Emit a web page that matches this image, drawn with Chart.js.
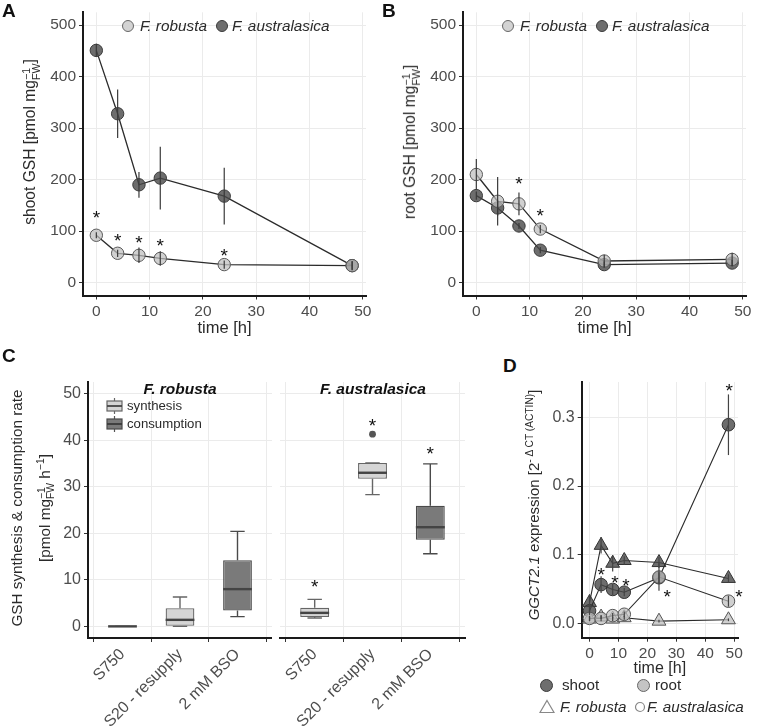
<!DOCTYPE html>
<html>
<head>
<meta charset="utf-8">
<title>GSH dynamics</title>
<script src="https://cdn.jsdelivr.net/npm/chart.js@4.4.1/dist/chart.umd.min.js"></script>
<style>
  body { margin: 0; background: #fff; }
  #fig { position: relative; width: 758px; height: 728px; overflow: hidden;
         font-family: "Liberation Sans", Arial, sans-serif; color: #2a2a2a; }
  #fig canvas { position: absolute; }
  .lbl { position: absolute; font-weight: bold; font-size: 19px; line-height: 1; color: #111; }
  .ytitle { position: absolute; white-space: nowrap; line-height: 1;
            transform: translate(-50%, -50%) rotate(-90deg); }
  .st { display: inline-block; font-size: 0.68em; line-height: 0.95; vertical-align: -0.45em; }
  .st span { display: block; }
  .sup { font-size: 0.68em; vertical-align: 0.55em; }
  .leg { position: absolute; white-space: nowrap; line-height: 1; }
  .dot { position: absolute; border-radius: 50%; box-sizing: border-box; }
  .facet { position: absolute; white-space: nowrap; transform: translate(-50%, -50%);
           font-weight: bold; font-style: italic; font-size: 15.5px; line-height: 1; color: #111; }
</style>
</head>
<body>
<div id="fig">
  <canvas id="chartA" width="380" height="340" style="left:0;top:0"></canvas>
  <canvas id="chartB" width="378" height="340" style="left:380px;top:0"></canvas>
  <canvas id="chartC1" width="272" height="388" style="left:0;top:340px"></canvas>
  <canvas id="chartC2" width="200" height="388" style="left:272px;top:340px"></canvas>
  <canvas id="chartD" width="238" height="388" style="left:520px;top:340px"></canvas>

  <!-- panel letters -->
  <div class="lbl" style="left:2px;top:1px">A</div>
  <div class="lbl" style="left:382px;top:1px">B</div>
  <div class="lbl" style="left:2px;top:346px">C</div>
  <div class="lbl" style="left:503px;top:356px">D</div>

  <!-- y axis titles -->
  <div class="ytitle" style="left:31px;top:142px;font-size:15.6px">shoot GSH [pmol mg<span class="st"><span>−1</span><span>FW</span></span>]</div>
  <div class="ytitle" style="left:411px;top:142px;font-size:15.6px">root GSH [pmol mg<span class="st"><span>−1</span><span>FW</span></span>]</div>
  <div class="ytitle" style="left:17px;top:508px;font-size:15.3px">GSH synthesis &amp; consumption rate</div>
  <div class="ytitle" style="left:46px;top:508px;font-size:15.3px">[pmol mg<span class="st"><span>−1</span><span>FW</span></span> h<span class="sup">−1</span>]</div>
  <div class="ytitle" style="left:533px;top:505px;font-size:15px"><i>GGCT2.1</i> expression [2<span class="sup">- Δ CT (ACTIN)</span>]</div>

  <!-- legends A / B -->
  <div class="dot" style="left:122px;top:20px;width:12px;height:12px;background:#d3d3d3;border:1px solid #666"></div>
  <div class="leg" style="left:140px;top:18px;font-size:15.3px;font-style:italic">F. robusta</div>
  <div class="dot" style="left:216px;top:20px;width:12px;height:12px;background:#6e6e6e;border:1px solid #3a3a3a"></div>
  <div class="leg" style="left:232px;top:18px;font-size:15.3px;font-style:italic">F. australasica</div>
  <div class="dot" style="left:502px;top:20px;width:12px;height:12px;background:#d3d3d3;border:1px solid #666"></div>
  <div class="leg" style="left:520px;top:18px;font-size:15.3px;font-style:italic">F. robusta</div>
  <div class="dot" style="left:596px;top:20px;width:12px;height:12px;background:#6e6e6e;border:1px solid #3a3a3a"></div>
  <div class="leg" style="left:612px;top:18px;font-size:15.3px;font-style:italic">F. australasica</div>

  <!-- facet titles C -->
  <div class="facet" style="left:180px;top:389px">F. robusta</div>
  <div class="facet" style="left:373px;top:389px">F. australasica</div>

  <!-- legend C -->
  <svg style="position:absolute;left:106px;top:398px" width="17" height="16">
    <line x1="8.5" y1="0" x2="8.5" y2="16" stroke="#666" stroke-width="1.2"/>
    <rect x="1" y="3" width="15" height="10" fill="#d5d5d5" stroke="#666" stroke-width="1.2"/>
    <line x1="1" y1="8" x2="16" y2="8" stroke="#444" stroke-width="1.8"/>
  </svg>
  <div class="leg" style="left:127px;top:399px;font-size:13.2px">synthesis</div>
  <svg style="position:absolute;left:106px;top:416px" width="17" height="16">
    <line x1="8.5" y1="0" x2="8.5" y2="16" stroke="#555" stroke-width="1.2"/>
    <rect x="1" y="3" width="15" height="10" fill="#7a7a7a" stroke="#4a4a4a" stroke-width="1.2"/>
    <line x1="1" y1="8" x2="16" y2="8" stroke="#3a3a3a" stroke-width="1.8"/>
  </svg>
  <div class="leg" style="left:127px;top:417px;font-size:13.2px">consumption</div>

  <!-- legend D -->
  <div class="dot" style="left:540px;top:679px;width:13px;height:13px;background:#6e6e6e;border:1px solid #3a3a3a"></div>
  <div class="leg" style="left:562px;top:677px;font-size:15.2px">shoot</div>
  <div class="dot" style="left:637px;top:679px;width:13px;height:13px;background:#c4c4c4;border:1px solid #666"></div>
  <div class="leg" style="left:655px;top:677px;font-size:15.2px">root</div>
  <svg style="position:absolute;left:539px;top:699px" width="16" height="15">
    <polygon points="8,1.5 15,13.5 1,13.5" fill="none" stroke="#888" stroke-width="1.2"/>
  </svg>
  <div class="leg" style="left:560px;top:699px;font-size:15.2px;font-style:italic">F. robusta</div>
  <svg style="position:absolute;left:634px;top:701px" width="12" height="12">
    <circle cx="6" cy="6" r="4.5" fill="none" stroke="#888" stroke-width="1.2"/>
  </svg>
  <div class="leg" style="left:647px;top:699px;font-size:15.2px;font-style:italic">F. australasica</div>
</div>

<script>
// ---- data ----
const timeHours = [0, 4, 8, 12, 24, 48];
const timeTicks = [0, 10, 20, 30, 40, 50];
const gshTicks = [0, 100, 200, 300, 400, 500];

// A: shoot GSH [pmol/mg FW]
const shootRobusta = [92, 57, 53, 47, 35, 33];
const shootRobustaSd = [6, 7, 15, 14, 8, 8];
const shootAustralasica = [451, 328, 190, 203, 168, 33];
const shootAustralasicaSd = [13, 47, 25, 61, 55, 9];
const shootStars = [[0, 135], [4, 90], [8, 86], [12, 80], [24, 61]];

// B: root GSH [pmol/mg FW]
const rootRobusta = [210, 158, 153, 104, 42, 45];
const rootRobustaSd = [30, 47, 22, 8, 12, 13];
const rootAustralasica = [169, 145, 110, 63, 35, 38];
const rootAustralasicaSd = [8, 15, 6, 6, 6, 6];
const rootStars = [[8, 200], [12, 138]];

// C: synthesis / consumption rate, [min, q1, median, q3, max] per treatment
const treatments = ['S750', 'S20 - resupply', '2 mM BSO'];
const rateTicks = [0, 10, 20, 30, 40, 50];
const robustaSynthesis = [[0, 0, 0, 0, 0], [0, 0, 1.4, 3.9, 6.3], null];
const robustaConsumption = [null, null, [2.1, 3.4, 8.0, 14.2, 20.4]];
const australasicaSynthesis = [[1.8, 2.0, 2.9, 4.0, 5.8], [28.3, 31.7, 33.0, 35.1, 35.1], null];
const australasicaConsumption = [null, null, [15.6, 18.6, 21.3, 25.9, 34.9]];
const australasicaOutliers = [null, 41.3, null];
const australasicaRateStars = [[1, 9.5], [2, 44], [3, 38]];

// D: GGCT2.1 expression
const exprTicks = [0, 0.1, 0.2, 0.3];
const shootExprRobusta = [0.031, 0.114, 0.088, 0.092, 0.089, 0.066];
const shootExprRobustaSd = [0.012, 0.012, 0.012, 0.006, 0.008, 0.006];
const shootExprAustralasica = [0.019, 0.057, 0.05, 0.046, 0.067, 0.289];
const shootExprAustralasicaSd = [0.006, 0.012, 0.008, 0.006, 0.008, 0.044];
const rootExprRobusta = [0.007, 0.01, 0.007, 0.009, 0.004, 0.006];
const rootExprRobustaSd = [0.003, 0.003, 0.003, 0.003, 0.002, 0.002];
const rootExprAustralasica = [0.008, 0.008, 0.012, 0.014, 0.068, 0.033];
const rootExprAustralasicaSd = [0.004, 0.004, 0.004, 0.004, 0.02, 0.008];
const exprStars = [[4, 0.078], [8.8, 0.067], [12.6, 0.062], [26.8, 0.046], [51.6, 0.046], [48.3, 0.345]];

// ---- shared style ----
const fontFamily = '"Liberation Sans", Arial, sans-serif';
const tickColor = '#4d4d4d';
const inkColor = '#2a2a2a';
const gridColor = '#ebebeb';
const lightFill = 'rgba(190, 190, 190, 0.72)';
const darkFill = 'rgba(72, 72, 72, 0.8)';

Chart.defaults.font.family = fontFamily;
Chart.defaults.font.size = 15.5;
Chart.defaults.font.weight = 'normal';
Chart.defaults.color = tickColor;

/**
 * Linear axis in the ggplot look: fixed ticks, light grid, dark axis line
 */
function linearAxis(min, max, tickValues, fontSize, fitSize, isX) {
    return {
        type: 'linear',
        min: min,
        max: max,
        afterBuildTicks: scale => { scale.ticks = tickValues.map(v => ({ value: v })); },
        afterFit: scale => {
            if (isX) { scale.height = fitSize; } else { scale.width = fitSize; }
        },
        ticks: {
            font: { family: fontFamily, size: fontSize, weight: 'normal' },
            color: tickColor, padding: 3, autoSkip: false, maxRotation: 0
        },
        grid: { color: gridColor, lineWidth: 1, tickColor: '#333', tickLength: 4 },
        border: { display: true, color: '#1a1a1a', width: 2 }
    };
}

/**
 * Vertical error bars from dataset.sd (drawn over the points)
 */
const errorBars = {
    id: 'errorBars',
    afterDatasetsDraw(chart) {
        const ctx = chart.ctx;
        const x = chart.scales.x;
        const y = chart.scales.y;
        chart.data.datasets.forEach(ds => {
            if (!ds.sd) return;
            ctx.save();
            ctx.strokeStyle = ds.errorColor || '#3a3a3a';
            ctx.lineWidth = 1.2;
            ds.data.forEach((p, i) => {
                const px = x.getPixelForValue(p.x);
                ctx.beginPath();
                ctx.moveTo(px, y.getPixelForValue(p.y - ds.sd[i]));
                ctx.lineTo(px, y.getPixelForValue(p.y + ds.sd[i]));
                ctx.stroke();
            });
            ctx.restore();
        });
    }
};

/**
 * Significance asterisks at data coordinates
 */
function starPlugin(marks, size) {
    return {
        id: 'stars',
        afterDatasetsDraw(chart) {
            const ctx = chart.ctx;
            ctx.save();
            ctx.font = size + 'px ' + fontFamily;
            ctx.fillStyle = '#111';
            ctx.textAlign = 'center';
            ctx.textBaseline = 'alphabetic';
            marks.forEach(([sx, sy]) => {
                const px = chart.scales.x.getPixelForValue(sx);
                const py = chart.scales.y.getPixelForValue(sy);
                ctx.fillText('*', px, py + size * 0.57);
            });
            ctx.restore();
        }
    };
}

/**
 * Whiskers and medians for the floating-bar boxes (dataset.stats)
 */
const boxWhiskers = {
    id: 'boxWhiskers',
    beforeDatasetsDraw(chart) {
        const ctx = chart.ctx;
        const y = chart.scales.y;
        chart.data.datasets.forEach((ds, di) => {
            if (!ds.stats) return;
            const meta = chart.getDatasetMeta(di);
            ctx.save();
            ctx.strokeStyle = ds.borderColor;
            ctx.lineWidth = 1.4;
            ds.stats.forEach((s, k) => {
                const bar = meta.data[k];
                const cap = bar.width / 4;
                ctx.beginPath();
                ctx.moveTo(bar.x, y.getPixelForValue(s[0]));
                ctx.lineTo(bar.x, y.getPixelForValue(s[1]));
                ctx.moveTo(bar.x, y.getPixelForValue(s[3]));
                ctx.lineTo(bar.x, y.getPixelForValue(s[4]));
                ctx.moveTo(bar.x - cap, y.getPixelForValue(s[0]));
                ctx.lineTo(bar.x + cap, y.getPixelForValue(s[0]));
                ctx.moveTo(bar.x - cap, y.getPixelForValue(s[4]));
                ctx.lineTo(bar.x + cap, y.getPixelForValue(s[4]));
                ctx.stroke();
            });
            ctx.restore();
        });
    },
    afterDatasetsDraw(chart) {
        const ctx = chart.ctx;
        const y = chart.scales.y;
        chart.data.datasets.forEach((ds, di) => {
            if (!ds.stats) return;
            const meta = chart.getDatasetMeta(di);
            ctx.save();
            ctx.strokeStyle = '#444';
            ctx.lineWidth = 2.4;
            ds.stats.forEach((s, k) => {
                const bar = meta.data[k];
                const py = y.getPixelForValue(s[2]);
                ctx.beginPath();
                ctx.moveTo(bar.x - bar.width / 2, py);
                ctx.lineTo(bar.x + bar.width / 2, py);
                ctx.stroke();
            });
            ctx.restore();
        });
    }
};

function toPoints(values) {
    return values.map((v, i) => ({ x: timeHours[i], y: v }));
}

function lineSeries(values, sd, fill, stroke, pointStyle, radius, order) {
    return {
        data: toPoints(values),
        sd: sd,
        borderColor: '#2b2b2b',
        borderWidth: 1.3,
        pointStyle: pointStyle,
        pointRadius: radius,
        pointBackgroundColor: fill,
        pointBorderColor: stroke,
        pointBorderWidth: 1,
        order: order,
        clip: false
    };
}

const baseOptions = {
    responsive: false,
    animation: false,
    devicePixelRatio: 1,
    events: [],
    plugins: { legend: { display: false }, tooltip: { enabled: false } }
};

/**
 * Panels A and B: GSH time course
 */
function gshChart(canvasId, robusta, robustaSd, australasica, australasicaSd, stars, rightPad) {
    const xAxis = linearAxis(-2.5, 50.6, timeTicks, 15.5, 44.5, true);
    xAxis.title = {
        display: true, text: 'time [h]', color: inkColor,
        font: { family: fontFamily, size: 16.5, weight: 'normal' }, padding: { top: 0, bottom: 2 }
    };
    return new Chart(document.getElementById(canvasId), {
        type: 'line',
        data: {
            datasets: [
                lineSeries(australasica, australasicaSd, darkFill, '#3a3a3a', 'circle', 6.2, 1),
                lineSeries(robusta, robustaSd, lightFill, '#5a5a5a', 'circle', 6.2, 0)
            ]
        },
        options: Object.assign({}, baseOptions, {
            layout: { padding: { top: 12, right: rightPad, left: 0, bottom: 0 } },
            scales: {
                x: xAxis,
                y: linearAxis(-25, 525, gshTicks, 15.5, 83, false)
            }
        }),
        plugins: [errorBars, starPlugin(stars, 19)]
    });
}

gshChart('chartA', shootRobusta, shootRobustaSd, shootAustralasica, shootAustralasicaSd, shootStars, 14);
gshChart('chartB', rootRobusta, rootRobustaSd, rootAustralasica, rootAustralasicaSd, rootStars, 12);

/**
 * Panel C: one facet of box plots
 */
function boxDataset(stats, fill, stroke) {
    const kept = stats.map((s, i) => ({ s: s, i: i })).filter(e => e.s);
    return {
        type: 'bar',
        data: kept.map(e => ({ x: e.i + 1, y: [e.s[1], e.s[3]] })),
        stats: kept.map(e => e.s),
        backgroundColor: fill,
        borderColor: stroke,
        borderWidth: 1.3,
        borderSkipped: false,
        grouped: false,
        barPercentage: 0.5,
        categoryPercentage: 1
    };
}

function rateChart(canvasId, synthesis, consumption, outliers, stars, withYAxis, rightPad) {
    const datasets = [
        boxDataset(synthesis, '#d5d5d5', '#666'),
        boxDataset(consumption, '#7a7a7a', '#4a4a4a')
    ];
    const outlierPoints = outliers.map((v, i) => v == null ? null : { x: i + 1, y: v }).filter(p => p);
    if (outlierPoints.length) {
        datasets.push({
            type: 'line', data: outlierPoints, showLine: false,
            pointRadius: 3.4, pointBackgroundColor: '#555', pointBorderWidth: 0
        });
    }

    const xAxis = linearAxis(0.4, 3.6, [1, 2, 3], 16, 90, true);
    xAxis.offset = false;
    xAxis.ticks.minRotation = 45;
    xAxis.ticks.maxRotation = 45;
    xAxis.ticks.callback = value => treatments[value - 1];

    const yAxis = linearAxis(-2.5, 52.5, rateTicks, 16, withYAxis ? 88 : 8, false);
    if (!withYAxis) {
        yAxis.ticks.display = false;
        yAxis.grid.drawTicks = false;
        yAxis.border = { display: false };
    }

    return new Chart(document.getElementById(canvasId), {
        type: 'bar',
        data: { datasets: datasets },
        options: Object.assign({}, baseOptions, {
            layout: { padding: { top: 42, right: rightPad, left: 0, bottom: 0 } },
            scales: { x: xAxis, y: yAxis }
        }),
        plugins: [boxWhiskers, starPlugin(stars, 19)]
    });
}

rateChart('chartC1', robustaSynthesis, robustaConsumption, [null, null, null], [], true, 0);
rateChart('chartC2', australasicaSynthesis, australasicaConsumption, australasicaOutliers, australasicaRateStars, false, 7);

/**
 * Panel D: GGCT2.1 expression over time
 */
const exprX = linearAxis(-2.7, 51.3, timeTicks, 15.5, 40.3, true);
exprX.title = {
    display: true, text: 'time [h]', color: inkColor,
    font: { family: fontFamily, size: 16, weight: 'normal' }, padding: { top: 0, bottom: 0 }
};
const exprY = linearAxis(-0.02, 0.351, exprTicks, 16, 61.7, false);
exprY.ticks.callback = value => value.toFixed(1);

const exprDatasets = [
    lineSeries(shootExprRobusta, shootExprRobustaSd, darkFill, '#333', 'triangle', 8, 3),
    lineSeries(shootExprAustralasica, shootExprAustralasicaSd, darkFill, '#333', 'circle', 6.3, 2),
    lineSeries(rootExprRobusta, rootExprRobustaSd, lightFill, '#555', 'triangle', 8, 1),
    lineSeries(rootExprAustralasica, rootExprAustralasicaSd, lightFill, '#555', 'circle', 6.3, 0)
];
exprDatasets.forEach(ds => { ds.borderWidth = 1.1; ds.errorColor = '#444'; });

new Chart(document.getElementById('chartD'), {
    type: 'line',
    data: { datasets: exprDatasets },
    options: Object.assign({}, baseOptions, {
        layout: { padding: { top: 42, right: 20, left: 0, bottom: 50 } },
        scales: { x: exprX, y: exprY }
    }),
    plugins: [errorBars, starPlugin(exprStars, 19)]
});
</script>
</body>
</html>
